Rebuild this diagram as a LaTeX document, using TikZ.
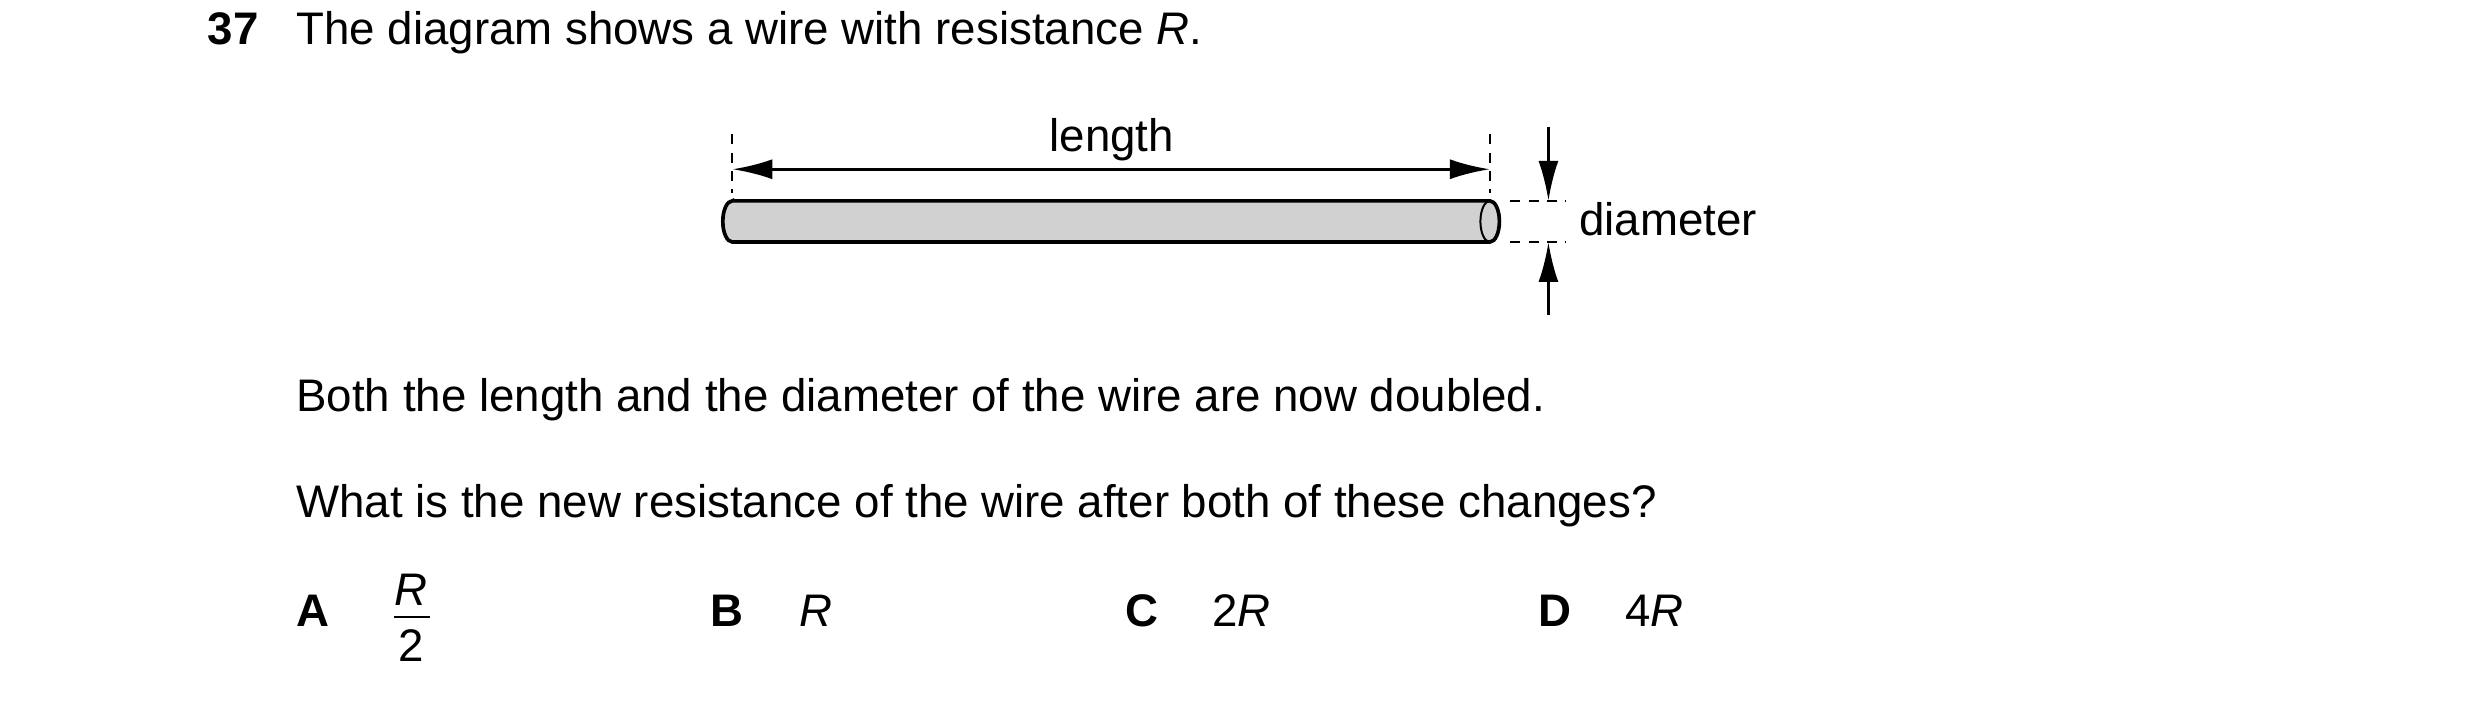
\documentclass[tikz,border=0pt]{standalone}
\usepackage{fontspec}
\setmainfont{Liberation Sans}
\usetikzlibrary{arrows.meta}
\begin{document}
\begin{tikzpicture}[x=0.4746pt,y=-0.4746pt,
  txt/.style={font=\fontsize{13.7pt}{16pt}\selectfont,inner sep=0pt},
  bld/.style={font=\fontsize{13.7pt}{16pt}\bfseries,inner sep=0pt},
  dsh/.style={line width=0.5pt,dash pattern=on 3pt off 2.5pt},
  tip/.style={line width=0.9pt,-{Latex[length=12pt,width=6pt]}}]
\useasboundingbox (0,0) rectangle (1568,444.5);
\node[bld,anchor=base west] (q) at (131,28) {37};
\node[txt,anchor=base west] (t1) at (187,28) {The diagram shows a wire with resistance \textit{R}.};
% wire
\draw[line width=1.1pt,fill=black!18] (463,127) -- (942,127) arc[start angle=90,end angle=-90,x radius=2.85pt,y radius=6.17pt] -- (463,153) arc[start angle=270,end angle=90,x radius=2.85pt,y radius=6.17pt] -- cycle;
\draw[line width=0.6pt] (942,127) arc[start angle=90,end angle=270,x radius=2.85pt,y radius=6.17pt];
% length
\coordinate (l1) at (463,85); \coordinate (l2) at (463,122);
\coordinate (r1) at (942,85); \coordinate (r2) at (942,122);
\draw[dsh] (l1) -- (l2); \draw[dsh] (r1) -- (r2);
\coordinate (la) at (463,107); \coordinate (ra) at (942,107);
\draw[line width=0.9pt,{Latex[length=12pt,width=6pt]}-{Latex[length=12pt,width=6pt]}] (la) -- (ra);
\node[txt,anchor=base] (len) at (703,96) {length};
% diameter
\coordinate (d1) at (955,127); \coordinate (d2) at (990,127);
\coordinate (d3) at (955,153); \coordinate (d4) at (990,153);
\draw[dsh] (d1) -- (d2); \draw[dsh] (d3) -- (d4);
\coordinate (ta) at (979,80); \coordinate (tb) at (979,127);
\coordinate (ba) at (979,199); \coordinate (bb) at (979,153);
\draw[tip] (ta) -- (tb);
\draw[tip] (ba) -- (bb);
\node[txt,anchor=base west] (dia) at (998,149) {diameter};
% text
\node[txt,anchor=base west] (t2) at (187,260) {Both the length and the diameter of the wire are now doubled.};
\node[txt,anchor=base west] (t3) at (187,327) {What is the new resistance of the wire after both of these changes?};
\node[bld,anchor=base west] (A) at (187,396) {A};
\node[txt,anchor=base] (An) at (260,383) {\textit{R}};
\node[txt,anchor=base] (Ad) at (260,418) {2};
\coordinate (f1) at (249,390); \coordinate (f2) at (272,390);
\draw[line width=0.6pt] (f1) -- (f2);
\node[bld,anchor=base west] (B) at (449,396) {B};
\node[txt,anchor=base west] (Bv) at (505,396) {\textit{R}};
\node[bld,anchor=base west] (C) at (711,396) {C};
\node[txt,anchor=base west] (Cv) at (766,396) {2\textit{R}};
\node[bld,anchor=base west] (D) at (972,396) {D};
\node[txt,anchor=base west] (Dv) at (1027,396) {4\textit{R}};
\end{tikzpicture}
\end{document}
